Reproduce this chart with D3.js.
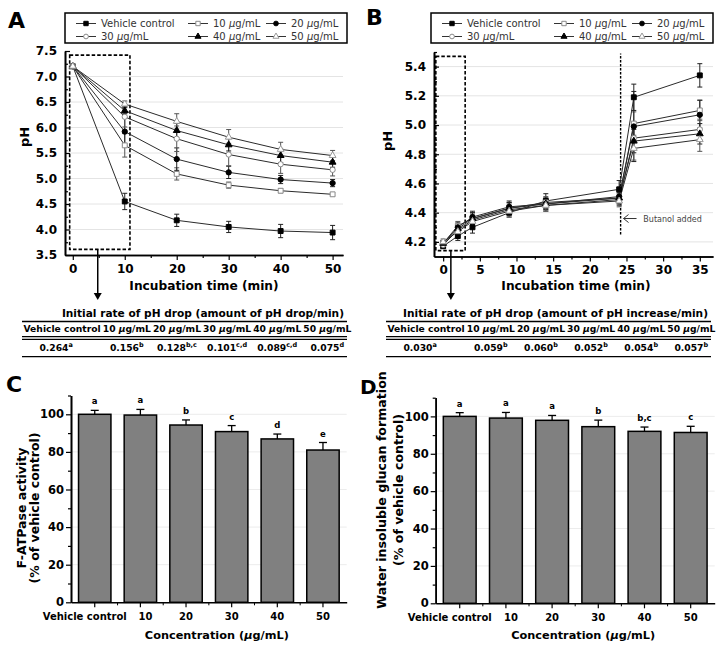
<!DOCTYPE html>
<html><head><meta charset="utf-8">
<script src="https://cdn.jsdelivr.net/npm/d3@7"></script>
<style>
body{margin:0;background:#fff}
text{font-family:"DejaVu Sans",sans-serif}
</style></head>
<body><svg id="fig" width="726" height="645"></svg>
<script>
// ---------------- DATA ----------------
const seriesNames = ["Vehicle control","10","20","30","40","50"];

// Panel A: pH drop
const timeA = [0,10,20,30,40,50];
const phA_vc = [7.20,4.55,4.18,4.05,3.97,3.94];
const phA_10 = [7.20,5.65,5.09,4.87,4.76,4.69];
const phA_20 = [7.20,5.92,5.38,5.12,4.98,4.91];
const phA_30 = [7.20,6.21,5.78,5.47,5.28,5.17];
const phA_40 = [7.20,6.33,5.94,5.66,5.45,5.32];
const phA_50 = [7.20,6.46,6.12,5.81,5.57,5.45];
const errA_vc = [0.02,0.16,0.12,0.11,0.13,0.14];
const errA_10 = [0.02,0.23,0.12,0.06,0.04,0.03];
const errA_20 = [0.02,0.27,0.22,0.12,0.08,0.07];
const errA_30 = [0.02,0.20,0.25,0.22,0.18,0.12];
const errA_40 = [0.02,0.06,0.14,0.12,0.14,0.10];
const errA_50 = [0.02,0.06,0.15,0.15,0.14,0.10];
const yTicksA = [3.5,4.0,4.5,5.0,5.5,6.0,6.5,7.0,7.5];
const xTicksA = [0,10,20,30,40,50];

// Panel B: pH rise
const timeB = [0,2,4,9,14,24,26,35];
const phB_vc = [4.17,4.24,4.30,4.40,4.48,4.56,5.19,5.34];
const phB_10 = [4.19,4.31,4.36,4.43,4.47,4.50,5.01,5.10];
const phB_20 = [4.19,4.30,4.37,4.44,4.46,4.51,4.99,5.07];
const phB_30 = [4.18,4.28,4.35,4.42,4.45,4.49,4.91,4.97];
const phB_40 = [4.19,4.29,4.36,4.43,4.46,4.50,4.89,4.94];
const phB_50 = [4.20,4.27,4.34,4.41,4.45,4.48,4.84,4.90];
const errB_vc = [0.01,0.03,0.04,0.03,0.05,0.06,0.09,0.08];
const errB_10 = [0.02,0.03,0.04,0.04,0.04,0.04,0.08,0.07];
const errB_20 = [0.02,0.03,0.04,0.04,0.04,0.04,0.24,0.10];
const errB_30 = [0.02,0.03,0.04,0.04,0.04,0.04,0.08,0.07];
const errB_40 = [0.02,0.03,0.04,0.04,0.04,0.04,0.08,0.07];
const errB_50 = [0.02,0.03,0.04,0.04,0.04,0.04,0.08,0.08];
const yTicksB = [4.2,4.4,4.6,4.8,5.0,5.2,5.4];
const xTicksB = [0,5,10,15,20,25,30,35];
const butanolTime = 24.2;

// Tables
const rateA = ["0.264","0.156","0.128","0.101","0.089","0.075"];
const rateA_sig = ["a","b","b,c","c,d","c,d","d"];
const rateB = ["0.030","0.059","0.060","0.052","0.054","0.057"];
const rateB_sig = ["a","b","b","b","b","b"];

// Panels C, D
const concCats = ["Vehicle control","10","20","30","40","50"];
const fatpase = [100,99.6,94.3,90.8,86.9,81.0];
const fatpaseErr = [2.1,3.0,2.7,3.2,2.6,4.0];
const fatpaseSig = ["a","a","b","c","d","e"];
const glucan = [100,99.1,97.9,94.5,92.0,91.4];
const glucanErr = [2.0,3.0,2.6,3.5,2.3,3.3];
const glucanSig = ["a","a","a","b","b,c","c"];
const yTicksBar = [0,20,40,60,80,100];

// ---------------- DRAWING ----------------
const svg = d3.select("#fig");
const markerStyles = [
  {type:d3.symbolSquare, fill:"#000", stroke:"#000", size:24},
  {type:d3.symbolSquare, fill:"#fff", stroke:"#8a8a8a", size:24},
  {type:d3.symbolCircle, fill:"#000", stroke:"#000", size:22},
  {type:d3.symbolCircle, fill:"#fff", stroke:"#8a8a8a", size:22},
  {type:d3.symbolTriangle, fill:"#000", stroke:"#000", size:20},
  {type:d3.symbolTriangle, fill:"#fff", stroke:"#9a9a9a", size:20}
];

function concLabel(sel, name, italicMu){
  if(name === "Vehicle control"){ sel.append("tspan").text(name); return; }
  sel.append("tspan").text(name + " ");
  sel.append("tspan").attr("font-style", italicMu ? "italic" : null).text("\u03bc");
  sel.append("tspan").text("g/mL");
}

function legend(x0, y0){
  const g = svg.append("g");
  g.append("rect").attr("x",x0).attr("y",y0).attr("width",282).attr("height",30)
   .attr("fill","#fff").attr("stroke","#000").attr("stroke-width",1.5);
  const cols = [11, 123, 201], rows = [10.5, 23.5];
  seriesNames.forEach((n,i)=>{
    const cx = x0 + cols[i%3], cy = y0 + rows[Math.floor(i/3)];
    g.append("line").attr("x1",cx).attr("x2",cx+20).attr("y1",cy).attr("y2",cy).attr("stroke","#333").attr("stroke-width",1);
    const m = markerStyles[i];
    g.append("path").attr("d", d3.symbol().type(m.type).size(m.size*0.8)()).attr("transform",`translate(${cx+10},${cy})`)
     .attr("fill",m.fill).attr("stroke",m.stroke);
    const t = g.append("text").attr("x",cx+25).attr("y",cy+3.6).attr("font-size",10).attr("fill","#333");
    concLabel(t, n, true);
  });
}

function linePanel(o){
  const g = svg.append("g");
  const x = d3.scaleLinear().domain(o.xDom).range(o.xRange);
  const y = d3.scaleLinear().domain(o.yDom).range(o.yRange);
  g.append("g").selectAll("line").data(o.grid).join("line")
    .attr("x1",o.xRange[0]).attr("x2",o.xRange[1]).attr("y1",d=>y(d)).attr("y2",d=>y(d))
    .attr("stroke","#e4e4e4").attr("stroke-width",1);
  // dashed selection box
  g.append("rect").attr("x",x(o.box[0])).attr("y",y(o.box[3]))
    .attr("width",x(o.box[1])-x(o.box[0])).attr("height",y(o.box[2])-y(o.box[3]))
    .attr("fill","none").attr("stroke","#000").attr("stroke-width",1.6).attr("stroke-dasharray","3.5,2");
  // arrow down to table
  const ax = x(o.arrowX);
  g.append("line").attr("x1",ax).attr("x2",ax).attr("y1",y(o.box[2])).attr("y2",o.arrowEnd-6).attr("stroke","#000").attr("stroke-width",1.5);
  g.append("path").attr("d",`M${ax-4},${o.arrowEnd-7}L${ax+4},${o.arrowEnd-7}L${ax},${o.arrowEnd}Z`).attr("fill","#000");
  if(o.extra) o.extra(g,x,y);
  // lines
  o.series.forEach(s=>{
    g.append("path").datum(o.t.map((t,i)=>[t,s.v[i]]))
      .attr("d", d3.line().x(d=>x(d[0])).y(d=>y(d[1])))
      .attr("fill","none").attr("stroke","#2b2b2b").attr("stroke-width",1);
  });
  // error bars
  o.series.forEach((s,si)=>{
    const eb = g.append("g").attr("stroke", si%2 ? "#555" : "#222").attr("stroke-width",1);
    o.t.forEach((t,i)=>{
      const cx = x(t), y1 = y(s.v[i]+s.e[i]), y2 = y(s.v[i]-s.e[i]);
      eb.append("line").attr("x1",cx).attr("x2",cx).attr("y1",y1).attr("y2",y2);
      eb.append("line").attr("x1",cx-2.5).attr("x2",cx+2.5).attr("y1",y1).attr("y2",y1);
      eb.append("line").attr("x1",cx-2.5).attr("x2",cx+2.5).attr("y1",y2).attr("y2",y2);
    });
  });
  // markers
  o.series.forEach((s,si)=>{
    const m = markerStyles[si];
    g.append("g").selectAll("path").data(o.t.map((t,i)=>[t,s.v[i]])).join("path")
      .attr("d", d3.symbol().type(m.type).size(m.size)())
      .attr("transform",d=>`translate(${x(d[0])},${y(d[1])})`)
      .attr("fill",m.fill).attr("stroke",m.stroke).attr("stroke-width",1);
  });
  // axes
  const yb = o.yRange[0];
  g.append("g").attr("transform",`translate(0,${yb})`)
    .call(d3.axisBottom(x).tickValues(o.xTicks).tickFormat(d3.format("d")).tickSize(5).tickSizeOuter(0).tickPadding(4));
  g.append("g").attr("transform",`translate(0,${yb})`)
    .call(d3.axisBottom(x).tickValues(o.xMinor).tickFormat("").tickSize(3).tickSizeOuter(0));
  g.append("g").attr("transform",`translate(${o.xRange[0]},0)`)
    .call(d3.axisLeft(y).tickValues(o.yTicks).tickFormat(d3.format(".1f")).tickSize(-5).tickSizeOuter(0).tickPadding(8));
  g.append("g").attr("transform",`translate(${o.xRange[0]},0)`)
    .call(d3.axisLeft(y).tickValues(o.yMinor).tickFormat("").tickSize(-3).tickSizeOuter(0));
  g.selectAll(".domain").attr("stroke","#000").attr("stroke-width",1.6);
  g.selectAll(".tick line").attr("stroke","#000").attr("stroke-width",1.2);
  g.selectAll(".tick text").attr("font-size",12).attr("font-weight","bold").attr("fill","#000")
    .attr("font-family","DejaVu Sans");
  // titles
  g.append("text").attr("x",o.xTitle[0]).attr("y",o.xTitle[1]).attr("text-anchor","middle")
    .attr("font-size",12.2).attr("font-weight","bold").text("Incubation time (min)");
  g.append("text").attr("transform",`translate(${o.yTitle[0]},${o.yTitle[1]}) rotate(-90)`).attr("text-anchor","middle")
    .attr("font-size",13).attr("font-weight","bold").text("pH");
  return g;
}

function table(x0, x1, title, vals, sigs){
  const g = svg.append("g");
  g.append("text").attr("x",x1-3).attr("y",317).attr("text-anchor","end")
    .attr("font-size",10.6).attr("font-weight","bold").text(title);
  const hl = (yy)=>g.append("line").attr("x1",x0).attr("x2",x1).attr("y1",yy).attr("y2",yy).attr("stroke","#000").attr("stroke-width",1.3);
  hl(321.5); hl(336.6); hl(339.4); hl(356.7);
  let cx = x0 + 1.5;
  seriesNames.forEach((n,i)=>{
    const t = g.append("text").attr("x",cx).attr("y",332).attr("font-size",9.2).attr("font-weight","bold");
    concLabel(t, n, true);
    const w = t.node().getComputedTextLength();
    const center = cx + w/2;
    const v = g.append("text").attr("x",center + (i===0 ? -6 : 0)).attr("y",351).attr("text-anchor","middle")
      .attr("font-size",9.2).attr("font-weight","bold");
    v.append("tspan").text(vals[i]);
    v.append("tspan").attr("font-size",6.5).attr("dy",-4).text(sigs[i]);
    cx += w + 2;
  });
}

function barPanel(o){
  const g = svg.append("g");
  const x = d3.scaleBand().domain(concCats).range([o.x0,o.x1]).paddingInner(0.29).paddingOuter(0.165);
  const y = d3.scaleLinear().domain([0,110]).range([o.yb,o.yt]);
  g.append("g").selectAll("line").data(yTicksBar.slice(1)).join("line")
    .attr("x1",o.x0).attr("x2",o.x1).attr("y1",d=>y(d)).attr("y2",d=>y(d)).attr("stroke","#ececec");
  const data = concCats.map((c,i)=>({c, v:o.vals[i], e:o.errs[i], s:o.sigs[i]}));
  const eb = g.append("g").attr("stroke","#000").attr("stroke-width",1.3);
  data.forEach(d=>{
    const cx = x(d.c)+x.bandwidth()/2;
    eb.append("line").attr("x1",cx).attr("x2",cx).attr("y1",y(d.v)).attr("y2",y(d.v+d.e));
    eb.append("line").attr("x1",cx-4).attr("x2",cx+4).attr("y1",y(d.v+d.e)).attr("y2",y(d.v+d.e));
  });
  g.append("g").selectAll("rect").data(data).join("rect")
    .attr("x",d=>x(d.c)).attr("width",x.bandwidth()).attr("y",d=>y(d.v)).attr("height",d=>y(0)-y(d.v))
    .attr("fill","#808080").attr("stroke","#000").attr("stroke-width",1.5);
  g.append("g").selectAll("text").data(data).join("text")
    .attr("x",d=>x(d.c)+x.bandwidth()/2).attr("y",d=>y(d.v+d.e)-6).attr("text-anchor","middle")
    .attr("font-size",8.5).attr("font-weight","bold").text(d=>d.s);
  // axes
  const xa = g.append("g").attr("transform",`translate(0,${o.yb})`)
    .call(d3.axisBottom(x).tickSize(5).tickSizeOuter(0).tickPadding(6));
  xa.selectAll(".tick text").attr("font-size",10).attr("dx",(d,i)=> i===0 ? -10 : (i===1 ? 5 : 0));
  const mg = g.append("g").attr("stroke","#000").attr("stroke-width",1);
  concCats.slice(1).forEach(c=>{
    const mx = x(c) - (x.step()-x.bandwidth())/2;
    mg.append("line").attr("x1",mx).attr("x2",mx).attr("y1",o.yb).attr("y2",o.yb+3);
  });
  g.append("g").attr("transform",`translate(${o.x0},0)`)
    .call(d3.axisLeft(y).tickValues(yTicksBar).tickSize(5).tickSizeOuter(0).tickPadding(2))
    .selectAll(".tick text").attr("font-size",11.5);
  g.append("g").attr("transform",`translate(${o.x0},0)`)
    .call(d3.axisLeft(y).tickValues([10,30,50,70,90,110]).tickFormat("").tickSize(3).tickSizeOuter(0));
  g.selectAll(".domain").attr("stroke","#000").attr("stroke-width",1.6);
  g.selectAll(".tick line").attr("stroke","#000").attr("stroke-width",1.2);
  g.selectAll(".tick text").attr("font-weight","bold").attr("fill","#000").attr("font-family","DejaVu Sans");
  const xt = g.append("text").attr("x",(o.x0+o.x1)/2 + 8).attr("y",639).attr("text-anchor","middle")
    .attr("font-size",11.3).attr("font-weight","bold");
  xt.append("tspan").text("Concentration (");
  xt.append("tspan").attr("font-style","italic").text("\u03bc");
  xt.append("tspan").text("g/mL)");
  o.ylab.forEach(l=>{
    g.append("text").attr("transform",`translate(${l[1]},${o.ylabY}) rotate(-90)`).attr("text-anchor","middle")
      .attr("font-size",o.ylabSize).attr("font-weight","bold").text(l[0]);
  });
}

function mk(vs, es){ return vs.map((v,i)=>({v, e:es[i]})); }

// Panel letters (drawn first so labels stay readable)
[["A",8,28,22],["B",366,25,22],["C",6,392,22],["D",360,394,20]].forEach(p=>{
  svg.append("text").attr("x",p[1]).attr("y",p[2]).attr("font-size",p[3]).attr("font-weight","bold").text(p[0]);
});

// Panel A
legend(65, 13);
linePanel({
  t: timeA,
  series: mk([phA_vc,phA_10,phA_20,phA_30,phA_40,phA_50],[errA_vc,errA_10,errA_20,errA_30,errA_40,errA_50]),
  xDom:[-1.5,52], xRange:[65,343], yDom:[3.5,7.5], yRange:[255,51],
  grid:[4.0,4.5,5.0,5.5,6.0,6.5,7.0], yTicks:yTicksA, yMinor:[3.75,4.25,4.75,5.25,5.75,6.25,6.75,7.25],
  xTicks:xTicksA, xMinor:[5,15,25,35,45],
  box:[-0.6,11.0,3.61,7.42], arrowX:4.8, arrowEnd:300,
  xTitle:[204,290], yTitle:[28.5,137]
});

// Panel B
legend(431, 13);
linePanel({
  t: timeB,
  series: mk([phB_vc,phB_10,phB_20,phB_30,phB_40,phB_50],[errB_vc,errB_10,errB_20,errB_30,errB_40,errB_50]),
  xDom:[-1.25,36.8], xRange:[434,713], yDom:[4.1,5.5], yRange:[256.5,52],
  grid:yTicksB, yTicks:yTicksB, yMinor:[4.3,4.5,4.7,4.9,5.1,5.3,5.5],
  xTicks:xTicksB, xMinor:[2.5,7.5,12.5,17.5,22.5,27.5,32.5],
  box:[-1.0,3.0,4.14,5.47], arrowX:1.05, arrowEnd:300,
  xTitle:[576,290], yTitle:[392,141],
  extra:(g,x,y)=>{
    g.append("line").attr("x1",x(butanolTime)).attr("x2",x(butanolTime)).attr("y1",y(4.25)).attr("y2",y(5.49))
      .attr("stroke","#000").attr("stroke-width",1.4).attr("stroke-dasharray","2.5,1.5");
    const ay = y(4.36), tip = x(24.6);
    g.append("path").attr("d",`M${tip+13},${ay}H${tip}M${tip+5},${ay-4}L${tip},${ay}L${tip+5},${ay+4}`)
      .attr("fill","none").attr("stroke","#333").attr("stroke-width",1);
    g.append("text").attr("x",x(27.3)).attr("y",ay+3).attr("font-size",8).attr("fill","#444").text("Butanol added");
  }
});

table(22, 347, "Initial rate of pH drop (amount of pH drop/min)", rateA, rateA_sig);
table(386, 711, "Initial rate of pH drop (amount of pH increase/min)", rateB, rateB_sig);

barPanel({x0:71, x1:346.7, yb:602.3, yt:395.5, vals:fatpase, errs:fatpaseErr, sigs:fatpaseSig,
  ylab:[["F-ATPase activity",25.5],["(% of vehicle control)",39]], ylabY:508, ylabSize:12.5});
barPanel({x0:435.7, x1:714.7, yb:603.3, yt:397.7, vals:glucan, errs:glucanErr, sigs:glucanSig,
  ylab:[["Water insoluble glucan formation",385.5],["(% of vehicle control)",403]], ylabY:490, ylabSize:12.6});
</script></body></html>
